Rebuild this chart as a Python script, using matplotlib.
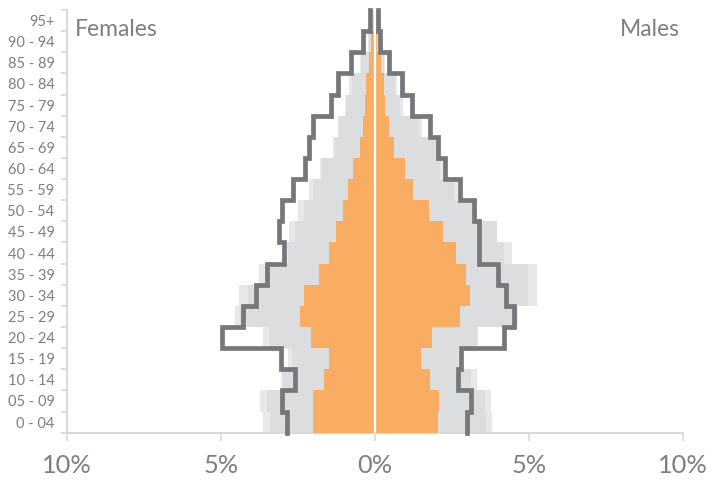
import numpy as np
import matplotlib
matplotlib.use("Agg")
import matplotlib.pyplot as plt

plt.rcParams['font.family'] = ['Lato', 'DejaVu Sans']

# age groups, bottom to top
ages = ["0 - 04", "05 - 09", "10 - 14", "15 - 19", "20 - 24", "25 - 29", "30 - 34",
        "35 - 39", "40 - 44", "45 - 49", "50 - 54", "55 - 59", "60 - 64", "65 - 69",
        "70 - 74", "75 - 79", "80 - 84", "85 - 89", "90 - 94", "95+"]

# share of population (%)
fem_orange = [2.0, 2.0, 1.64, 1.48, 2.08, 2.45, 2.32, 1.82, 1.5, 1.28, 1.05, 0.88,
              0.7, 0.48, 0.4, 0.34, 0.3, 0.2, 0.12, 0.03]
male_orange = [2.04, 2.09, 1.8, 1.48, 1.86, 2.77, 3.07, 2.94, 2.64, 2.22, 1.74, 1.25,
               0.96, 0.63, 0.45, 0.34, 0.3, 0.18, 0.08, 0.02]

fem_gray = [3.42, 3.5, 3.0, 2.68, 3.43, 4.38, 4.13, 3.53, 2.83, 2.6, 2.32, 2.0,
            1.73, 1.31, 1.18, 0.94, 0.75, 0.45, 0.2, 0.05]
fem_gray_outer = [3.64, 3.72, 3.06, 2.84, 3.63, 4.56, 4.4, 3.77, 2.85, 2.78, 2.51, 2.13,
                  1.78, 1.36, 1.2, 0.96, 0.85, 0.5, 0.22, 0.06]
male_gray = [3.59, 3.56, 3.12, 2.69, 3.32, 4.58, 4.96, 4.96, 4.18, 3.97, 3.15, 2.57,
             2.1, 1.97, 1.43, 0.8, 0.65, 0.3, 0.15, 0.04]
male_gray_outer = [3.8, 3.77, 3.32, 2.75, 3.34, 4.64, 5.25, 5.25, 4.45, 3.97, 3.3, 2.7,
                   2.2, 2.1, 1.52, 0.9, 0.72, 0.34, 0.18, 0.05]

fem_line = [2.86, 3.01, 2.61, 3.05, 4.96, 4.27, 3.86, 3.5, 2.94, 3.12, 3.01, 2.67,
            2.26, 2.13, 2.0, 1.42, 1.21, 0.77, 0.4, 0.15]
male_line = [2.98, 3.12, 2.69, 2.8, 4.2, 4.5, 4.27, 3.99, 3.39, 3.38, 3.23, 2.77,
             2.26, 2.04, 1.77, 1.19, 0.88, 0.47, 0.17, 0.1]

xticks = [-10, -5, 0, 5, 10]
xticklabels = ["10%", "5%", "0%", "5%", "10%"]

ORANGE = "#f9ad62"
GRAY = "#dcdddf"
GRAY_LIGHT = "#e7e8e9"
LINE = "#76777a"
TEXT = "#7f7f7f"
AXIS = "#d9d9d9"

fig = plt.figure(figsize=(7.07, 4.82), dpi=100)
ax = fig.add_axes([0.0948, 0.1023, 0.8712, 0.877])

y = np.arange(len(ages))

ax.barh(y, -np.array(fem_gray_outer), height=1.0, color=GRAY_LIGHT, zorder=1)
ax.barh(y, male_gray_outer, height=1.0, color=GRAY_LIGHT, zorder=1)
ax.barh(y, -np.array(fem_gray), height=1.0, color=GRAY, zorder=2)
ax.barh(y, male_gray, height=1.0, color=GRAY, zorder=2)
ax.barh(y, -np.array(fem_orange), height=1.0, color=ORANGE, zorder=3)
ax.barh(y, male_orange, height=1.0, color=ORANGE, zorder=3)
ax.axvline(0, color="white", lw=1.6, zorder=4)

# step outlines
ys = np.column_stack([y - 0.5, y + 0.5]).ravel()
ax.plot(-np.repeat(fem_line, 2), ys, color=LINE, lw=3.4, zorder=5,
        solid_joinstyle="miter", clip_on=False)
ax.plot(np.repeat(male_line, 2), ys, color=LINE, lw=3.4, zorder=5,
        solid_joinstyle="miter", clip_on=False)

ax.set_xlim(-10, 10)
ax.set_ylim(-0.5, len(ages) - 0.5)

ax.set_xticks(xticks)
ax.set_xticklabels(xticklabels, fontsize=18.3, color=TEXT)
ax.set_yticks(y)
ax.set_yticklabels(ages, fontsize=10.5, color=TEXT)
ax.set_yticks(np.arange(len(ages) + 1) - 0.5, minor=True)

ax.tick_params(axis="x", length=6, width=1.2, color=AXIS, pad=9)
ax.tick_params(axis="y", which="major", length=0, pad=9)
ax.tick_params(axis="y", which="minor", length=4, width=1.2, color=AXIS)

for s in ["top", "right"]:
    ax.spines[s].set_visible(False)
for s in ["left", "bottom"]:
    ax.spines[s].set_color(AXIS)
    ax.spines[s].set_linewidth(1.5)

ax.text(0.012, 0.978, "Females", transform=ax.transAxes, fontsize=16.5,
        color=TEXT, ha="left", va="top")
ax.text(0.995, 0.978, "Males", transform=ax.transAxes, fontsize=16.5,
        color=TEXT, ha="right", va="top")

fig.savefig("out.png", dpi=100)
